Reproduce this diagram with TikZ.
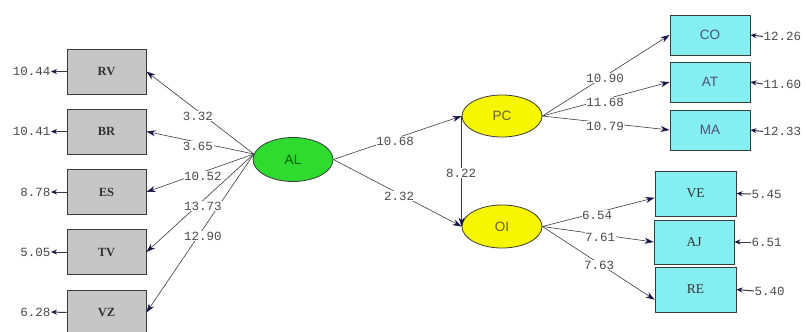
\documentclass[tikz,border=0pt]{standalone}
\usepackage{fontspec}
\setmainfont{Liberation Serif}
\setsansfont{Liberation Sans}
\setmonofont{Liberation Mono}
\usetikzlibrary{arrows.meta,shapes.geometric}
\definecolor{tipc}{HTML}{15154A}
\definecolor{linec}{HTML}{3A3A3A}
\definecolor{numc}{HTML}{4A4A4A}
\definecolor{grayfill}{HTML}{C6C6C6}
\definecolor{cyanfill}{HTML}{85EEF0}
\definecolor{greenfill}{HTML}{2EDB2E}
\definecolor{yellowfill}{HTML}{F6F600}
\tikzset{
  gbox/.style={draw=linec, line width=0.9pt, fill=grayfill, minimum width=79pt, minimum height=45pt, inner sep=0pt,
    font=\fontsize{12.5}{12.5}\selectfont\bfseries, text=black!80},
  cbox/.style={draw=linec, line width=0.9pt, fill=cyanfill, minimum width=80pt, minimum height=40pt, inner sep=0pt,
    font=\sffamily\fontsize{13.5}{13.5}\selectfont, text=black!75!cyan!60!blue},
  sbox/.style={draw=linec, line width=0.9pt, fill=cyanfill, minimum width=81pt, minimum height=45pt, inner sep=0pt,
    font=\fontsize{13.5}{13.5}\selectfont, text=black!80},
  lat/.style={ellipse, draw=linec, line width=0.8pt, minimum width=80pt, minimum height=44pt, inner sep=0pt,
    font=\sffamily\fontsize{13.5}{13.5}\selectfont},
  num/.style={font=\ttfamily\fontsize{12.5}{12.5}\selectfont, text=numc, inner sep=0.5pt},
  lab/.style={num, fill=white},
  path/.style={draw=linec, line width=0.6pt, -{Stealth[length=9pt,width=6pt,color=tipc,fill=tipc]}},
  err/.style={draw=linec, line width=1pt, -{Stealth[length=6pt,width=5pt,color=tipc,fill=tipc]}},
}
\begin{document}
\begin{tikzpicture}[x=1pt,y=-1pt]
\useasboundingbox (0,0) rectangle (806,332);
% left indicator boxes
\node[gbox] (RV) at (106.5,71.5) {RV};
\node[gbox] (BR) at (106.5,131.5) {BR};
\node[gbox] (ES) at (106.5,192) {ES};
\node[gbox] (TV) at (106.5,252) {TV};
\node[gbox] (VZ) at (106.5,312.5) {VZ};
% latent variables
\node[lat, fill=greenfill, text=black!60!green] (AL) at (293,159.5) {AL};
\node[lat, fill=yellowfill, minimum height=42pt, text=black!70!yellow] (PC) at (502,116) {PC};
\node[lat, fill=yellowfill, minimum height=43pt, text=black!70!yellow] (OI) at (502,226.5) {OI};
% right boxes
\node[cbox] (CO) at (710,35) {CO};
\node[cbox] (AT) at (710,82) {AT};
\node[cbox] (MA) at (710,130) {MA};
\node[sbox] (VE) at (695.5,193.5) {VE};
\node[sbox, minimum width=80pt, minimum height=44pt] (AJ) at (694,242) {AJ};
\node[sbox] (RE) at (695.5,289.5) {RE};
% error terms
\node[num, anchor=east] (eRV) at (51,71.5) {10.44};
\node[num, anchor=east] (eBR) at (51,131.5) {10.41};
\node[num, anchor=east] (eES) at (51,192) {8.78};
\node[num, anchor=east] (eTV) at (51,252) {5.05};
\node[num, anchor=east] (eVZ) at (51,312) {6.28};
\node[num, anchor=west] (eCO) at (763,36.5) {12.26};
\node[num, anchor=west] (eAT) at (763,84) {11.60};
\node[num, anchor=west] (eMA) at (763,131.5) {12.33};
\node[num, anchor=west] (eVE) at (751,194) {5.45};
\node[num, anchor=west] (eAJ) at (751,242) {6.51};
\node[num, anchor=west] (eRE) at (754,291) {5.40};
\foreach \b in {RV,BR,ES,TV,VZ} \draw[err] (\b.west) -- (e\b.east);
\foreach \b in {CO,AT,MA,VE,AJ,RE} \draw[err] (e\b.west) -- (\b.east);
% structural paths
\foreach \b in {RV,BR,ES,TV,VZ} \draw[path] (AL.172) -- (\b.east);
\draw[path] (AL.east) -- (PC.west);
\draw[path] (AL.east) -- (OI.west);
\draw[path] (PC.west) -- (OI.west);
\draw[path] (PC.east) -- (CO.west);
\draw[path] (PC.east) -- (AT.west);
\draw[path] (PC.east) -- (MA.west);
\draw[path] (OI.east) -- (VE.186);
\draw[path] (OI.east) -- (AJ.west);
\draw[path] (OI.east) -- (RE.194);
% labels
\node[lab] (l1) at (198,116) {3.32};
\node[lab] (l2) at (198,146) {3.65};
\node[lab] (l3) at (203,176) {10.52};
\node[lab] (l4) at (203,206) {13.73};
\node[lab] (l5) at (203,236) {12.90};
\node[lab] (l6) at (395,141) {10.68};
\node[lab] (l7) at (399,196) {2.32};
\node[lab] (l8) at (461,173) {8.22};
\node[lab] (l9) at (605,78) {10.90};
\node[lab] (l10) at (605,102) {11.68};
\node[lab] (l11) at (605,126) {10.79};
\node[lab] (l12) at (597,215) {6.54};
\node[lab] (l13) at (600,237) {7.61};
\node[lab] (l14) at (599,265) {7.63};
\end{tikzpicture}
\end{document}
